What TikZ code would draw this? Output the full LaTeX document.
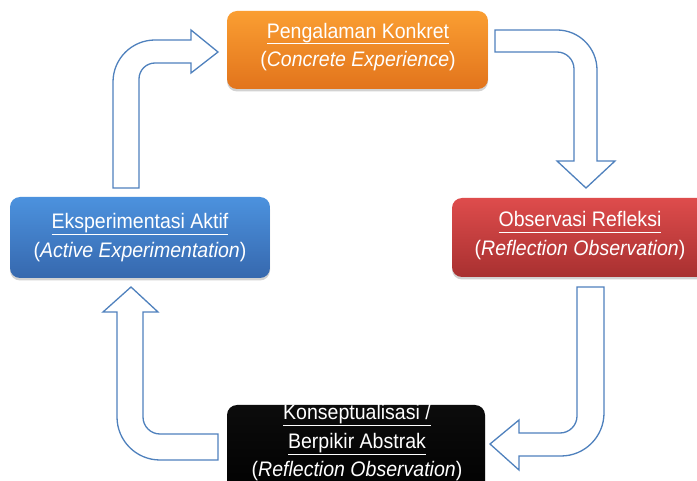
\documentclass[tikz,border=0pt]{standalone}
\usepackage{fontspec}
\setmainfont[FakeStretch=0.93]{Liberation Sans}
\usetikzlibrary{shadows}
\definecolor{arrowblue}{RGB}{79,129,189}
\definecolor{orangeTop}{RGB}{250,158,50}
\definecolor{orangeBot}{RGB}{226,116,28}
\definecolor{blueTop}{RGB}{76,146,222}
\definecolor{blueBot}{RGB}{54,104,174}
\definecolor{redTop}{RGB}{222,76,76}
\definecolor{redBot}{RGB}{168,48,48}
\definecolor{blackTop}{RGB}{12,12,12}
\definecolor{blackBot}{RGB}{0,0,0}
\newcommand\myul[1]{\setbox0\hbox{#1}\rlap{\rule[-6pt]{\wd0}{0.9pt}}\box0}
\tikzset{
  cyclebox/.style={rectangle, rounded corners=10pt, inner sep=0pt, draw=none,
    drop shadow={shadow xshift=0pt, shadow yshift=-2.5pt, opacity=0.35}},
  boxtext/.style={text=white, align=center, inner sep=0pt,
    font=\fontsize{21}{28.5}\selectfont},
  bentarrow/.style={draw=arrowblue, line width=1.3pt, fill=white, line join=miter}
}
\begin{document}
\begin{tikzpicture}[x=1pt,y=1pt]
\useasboundingbox (0,0) rectangle (697,-481);
\clip (0,0) rectangle (697,-481);
\fill[white] (0,0) rectangle (697,-481);

% bent arrows
\draw[bentarrow] (113,-188) -- (113,-82) arc[start angle=180,end angle=90,radius=42pt]
  -- (191,-40) -- (191,-30) -- (218,-52) -- (191,-73) -- (191,-63) -- (155,-63)
  arc[start angle=90,end angle=180,radius=16pt] -- (139,-188) -- cycle;
\draw[bentarrow] (495,-30) -- (557,-30) arc[start angle=90,end angle=0,radius=40pt]
  -- (597,-161) -- (615,-161) -- (586,-188) -- (557,-161) -- (574,-161) -- (574,-69)
  arc[start angle=0,end angle=90,radius=17pt] -- (495,-52) -- cycle;
\draw[bentarrow] (577,-287) -- (604,-287) -- (604,-413)
  arc[start angle=0,end angle=-90,radius=43pt] -- (519,-456) -- (519,-470) -- (490,-444)
  -- (519,-420) -- (519,-433) -- (560,-433)
  arc[start angle=-90,end angle=0,radius=17pt] -- cycle;
\draw[bentarrow] (131,-287) -- (158,-312) -- (143,-312) -- (143,-417)
  arc[start angle=180,end angle=270,radius=17pt] -- (218,-434) -- (218,-460) -- (160,-460)
  arc[start angle=270,end angle=180,radius=43pt] -- (117,-312) -- (103,-312) -- cycle;

% boxes
\node[cyclebox, top color=orangeTop, bottom color=orangeBot,
  minimum width=261pt, minimum height=78pt] (ce) at (357.5,-50) {};
\node[cyclebox, top color=blueTop, bottom color=blueBot,
  minimum width=260pt, minimum height=81pt] (ae) at (140,-237.5) {};
\node[cyclebox, top color=redTop, bottom color=redBot,
  minimum width=256pt, minimum height=79pt] (ro) at (580,-237.5) {};
\node[cyclebox, top color=blackTop, bottom color=blackBot,
  minimum width=258pt, minimum height=95pt] (ab) at (356,-452.5) {};

% texts
\node[boxtext] (cet) at (358,-47) {\myul{Pengalaman Konkret}\\(\textit{Concrete Experience})};
\node[boxtext] (aet) at (140,-237.5) {\myul{Eksperimentasi Aktif}\\(\textit{Active Experimentation})};
\node[boxtext] (rot) at (580,-235.5) {\myul{Observasi Refleksi}\\(\textit{Reflection Observation})};
\node[boxtext] (abt) at (357,-443) {\myul{Konseptualisasi /}\\\myul{Berpikir Abstrak}\\(\textit{Reflection Observation})};
\end{tikzpicture}
\end{document}
